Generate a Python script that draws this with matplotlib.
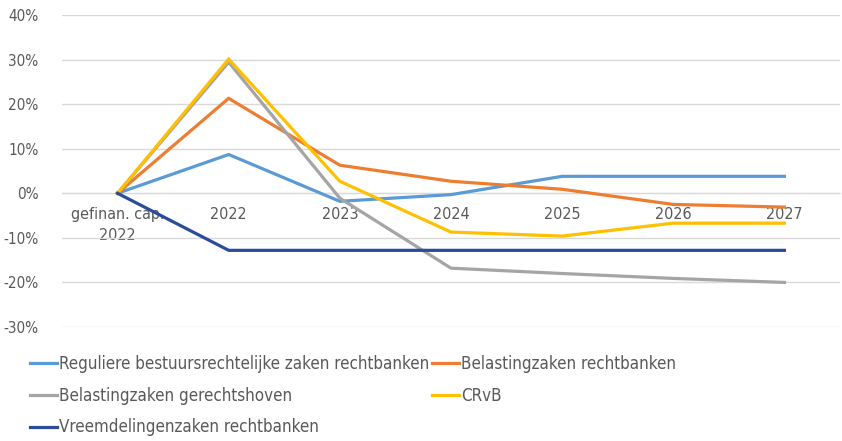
import matplotlib.pyplot as plt
from matplotlib import font_manager
from matplotlib.ticker import FuncFormatter

# fonts: the original uses a narrow face; look for a condensed one
fonts = font_manager.fontManager.ttflist
narrow = [f for f in fonts if 'Narrow' in f.name or f.stretch in ('condensed', 'semi-condensed')
          or (isinstance(f.stretch, int) and f.stretch < 500)]
if narrow:
    plt.rcParams['font.family'] = [narrow[0].name, 'DejaVu Sans']
    plt.rcParams['font.stretch'] = narrow[0].stretch
else:
    plt.rcParams['font.family'] = ['Liberation Sans', 'DejaVu Sans']

categories = ["gefinan. cap.\n2022", "2022", "2023", "2024", "2025", "2026", "2027"]

reguliere = [0, 8.7, -1.8, -0.3, 3.8, 3.8, 3.8]
belasting_rb = [0, 21.3, 6.3, 2.7, 0.9, -2.5, -3.1]
belasting_hof = [0, 29.4, -1.1, -16.8, -18.0, -19.1, -20.0]
crvb = [0, 30.1, 2.7, -8.7, -9.6, -6.7, -6.7]
vreemdelingen = [0, -12.8, -12.8, -12.8, -12.8, -12.8, -12.8]

series = [
    ("Reguliere bestuursrechtelijke zaken rechtbanken", reguliere, "#5B9BD5"),
    ("Belastingzaken rechtbanken", belasting_rb, "#ED7D31"),
    ("Belastingzaken gerechtshoven", belasting_hof, "#A5A5A5"),
    ("CRvB", crvb, "#FFC000"),
    ("Vreemdelingenzaken rechtbanken", vreemdelingen, "#2B4C9B"),
]

fig = plt.figure(figsize=(8.42, 4.41), dpi=100)
ax = fig.add_axes([0.0736, 0.2585, 0.924, 0.7075])

x = list(range(len(categories)))
lines = {}
for name, vals, col in series:
    lines[name], = ax.plot(x, vals, color=col, lw=2.3, label=name,
                           solid_joinstyle='miter', zorder=3)

ax.set_xlim(-0.5, len(categories) - 0.5)
ax.set_ylim(-30, 40)
ax.set_yticks(range(-30, 41, 10))
ax.yaxis.set_major_formatter(FuncFormatter(lambda v, p: f"{v:.0f}%"))
ax.grid(axis='y', color='#D9D9D9', lw=1)
ax.set_axisbelow(True)

for s in ['top', 'right', 'left']:
    ax.spines[s].set_visible(False)
ax.spines['bottom'].set_position(('data', 0))
ax.spines['bottom'].set_color('#D9D9D9')

ax.set_xticks(x)
ax.set_xticklabels(categories, linespacing=1.5)
ax.tick_params(axis='both', length=0, labelsize=11.5, labelcolor='#595959')
ax.tick_params(axis='x', pad=10)
ax.tick_params(axis='y', labelsize=11, pad=17)

# legend in the order Excel shows it (2 columns, filled column-wise)
order = ["Reguliere bestuursrechtelijke zaken rechtbanken", "Belastingzaken gerechtshoven",
         "Vreemdelingenzaken rechtbanken", "Belastingzaken rechtbanken", "CRvB"]
fig.legend([lines[n] for n in order], order, ncol=2, loc='upper left',
           bbox_to_anchor=(0.025, 0.215), frameon=False, fontsize=12.2,
           labelcolor='#595959', handlelength=1.6, handletextpad=0.12,
           columnspacing=0.2, labelspacing=0.82, borderpad=0)

fig.savefig("out.png", dpi=100)
